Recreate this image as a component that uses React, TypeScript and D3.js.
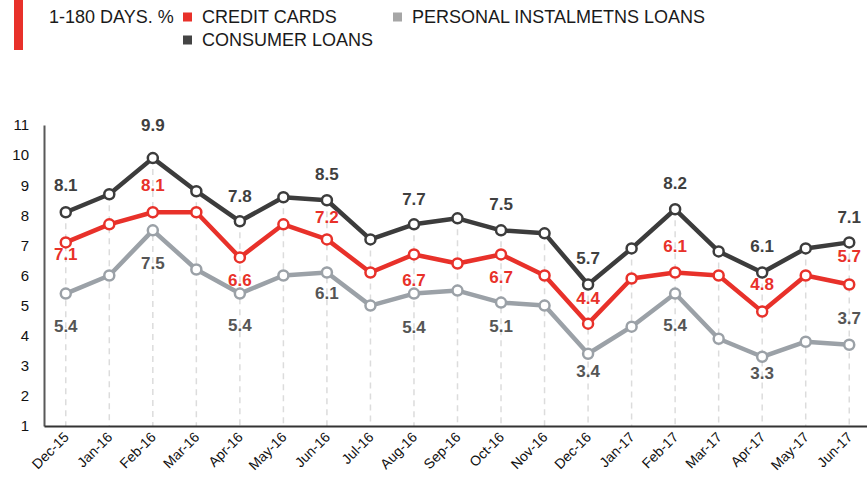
import React, { useEffect, useRef } from 'react';
import * as d3 from 'd3';

const months = [
  'Dec-15', 'Jan-16', 'Feb-16', 'Mar-16', 'Apr-16', 'May-16', 'Jun-16', 'Jul-16', 'Aug-16', 'Sep-16',
  'Oct-16', 'Nov-16', 'Dec-16', 'Jan-17', 'Feb-17', 'Mar-17', 'Apr-17', 'May-17', 'Jun-17',
];

const consumerLoans = [8.1, 8.7, 9.9, 8.8, 7.8, 8.6, 8.5, 7.2, 7.7, 7.9, 7.5, 7.4, 5.7, 6.9, 8.2, 6.8, 6.1, 6.9, 7.1];
const creditCards = [7.1, 7.7, 8.1, 8.1, 6.6, 7.7, 7.2, 6.1, 6.7, 6.4, 6.7, 6.0, 4.4, 5.9, 6.1, 6.0, 4.8, 6.0, 5.7];
const personalLoans = [5.4, 6.0, 7.5, 6.2, 5.4, 6.0, 6.1, 5.0, 5.4, 5.5, 5.1, 5.0, 3.4, 4.3, 5.4, 3.9, 3.3, 3.8, 3.7];

const yTicks = [1, 2, 3, 4, 5, 6, 7, 8, 9, 10, 11];

// label offsets (null = no label)
const consumerLabelDy = [-27, null, -33, null, -25, null, -26, null, -25, null, -26, null, -26, null, -26, null, -26, null, -25];
const creditLabelDy = [12, null, -27, null, 23, null, -22, null, 26, null, 23, null, -25, null, -26, null, -27, null, -28];
const personalLabelDy = [33, null, 33, null, 32, null, 21, null, 34, null, 24, null, 18, null, 32, null, 17, null, -26];

const RED = '#e8312a';
const DARK = '#3c3c3c';
const GRAY = '#9ba1a7';

const series = [
  { name: 'PERSONAL INSTALMETNS LOANS', values: personalLoans, color: GRAY, labelColor: '#555555', dy: personalLabelDy },
  { name: 'CREDIT CARDS', values: creditCards, color: RED, labelColor: RED, dy: creditLabelDy },
  { name: 'CONSUMER LOANS', values: consumerLoans, color: DARK, labelColor: '#404040', dy: consumerLabelDy },
];

export default function App() {
  const svgRef = useRef<SVGSVGElement>(null);
  const width = 867;
  const height = 491;

  useEffect(() => {
    if (!svgRef.current) return;
    const svg = d3.select(svgRef.current);
    svg.selectAll('*').remove();

    const x = d3.scaleBand<string>().domain(months).range([44, 871]).padding(0);
    const cx = (m: string) => (x(m) as number) + x.bandwidth() / 2;
    const y = d3.scaleLinear().domain([1, 11]).range([426, 125]);

    // drop lines from the top series
    svg.append('g')
      .selectAll('line')
      .data(months)
      .enter()
      .append('line')
      .attr('x1', d => cx(d))
      .attr('x2', d => cx(d))
      .attr('y1', (d, i) => y(consumerLoans[i]))
      .attr('y2', y(1))
      .attr('stroke', '#dcdcdc')
      .attr('stroke-width', 1.5)
      .attr('stroke-dasharray', '6,5');

    // y axis
    const yAxis = svg.append('g')
      .attr('transform', 'translate(44,0)')
      .call(d3.axisLeft(y).tickValues(yTicks).tickSize(0).tickPadding(15).tickFormat(d3.format('d')));
    yAxis.select('.domain').attr('stroke', '#595959').attr('stroke-width', 2);
    yAxis.selectAll('text')
      .style('font-family', 'Arial, "Liberation Sans", sans-serif')
      .style('font-size', '15px')
      .attr('fill', '#111');

    // x axis
    const xAxis = svg.append('g')
      .attr('transform', `translate(0,${y(1)})`)
      .call(d3.axisBottom(x).tickSize(0).tickSizeOuter(0).tickPadding(0));
    xAxis.select('.domain').attr('stroke', '#333').attr('stroke-width', 2);
    xAxis.selectAll('text')
      .style('font-family', 'Arial, "Liberation Sans", sans-serif')
      .style('font-size', '14px')
      .attr('fill', '#111')
      .attr('text-anchor', 'end')
      .attr('dy', null)
      .attr('y', 0)
      .attr('transform', 'translate(4,12) rotate(-45)');

    const line = d3.line<number>()
      .x((d, i) => cx(months[i]))
      .y(d => y(d));

    series.forEach(s => {
      svg.append('path')
        .datum(s.values)
        .attr('fill', 'none')
        .attr('stroke', s.color)
        .attr('stroke-width', 4.5)
        .attr('stroke-linejoin', 'round')
        .attr('d', line);

      svg.append('g')
        .selectAll('circle')
        .data(s.values)
        .enter()
        .append('circle')
        .attr('cx', (d, i) => cx(months[i]))
        .attr('cy', d => y(d))
        .attr('r', 5)
        .attr('fill', '#fff')
        .attr('stroke', s.color)
        .attr('stroke-width', 2.5);
    });

    series.forEach(s => {
      svg.append('g')
        .selectAll('text')
        .data(s.values.map((v, i) => ({ v, i, dy: s.dy[i] })).filter(d => d.dy !== null))
        .enter()
        .append('text')
        .attr('x', d => cx(months[d.i]))
        .attr('y', d => y(d.v) + (d.dy as number))
        .attr('text-anchor', 'middle')
        .attr('dominant-baseline', 'central')
        .style('font-family', 'Arial, "Liberation Sans", sans-serif')
        .style('font-size', '17px')
        .style('font-weight', 'bold')
        .attr('fill', s.labelColor)
        .text(d => d.v.toFixed(1));
    });

    // legend
    const legend = svg.append('g')
      .style('font-family', 'Arial, "Liberation Sans", sans-serif')
      .style('font-size', '18px')
      .attr('fill', '#1a1a1a');

    legend.append('rect').attr('x', 14).attr('y', 0).attr('width', 9).attr('height', 50).attr('fill', RED);
    legend.append('text').attr('x', 49).attr('y', 17).attr('dominant-baseline', 'central').text('1-180 DAYS. %');

    const items = [
      { s: series[1], x: 183, y: 17 },
      { s: series[0], x: 393, y: 17 },
      { s: series[2], x: 183, y: 40 },
    ];
    items.forEach(it => {
      legend.append('rect')
        .attr('x', it.x).attr('y', it.y - 4.5).attr('width', 9).attr('height', 9)
        .attr('fill', it.s.color === DARK ? '#444' : it.s.color === GRAY ? '#a6a6a6' : RED);
      legend.append('text')
        .attr('x', it.x + 19).attr('y', it.y)
        .attr('dominant-baseline', 'central')
        .text(it.s.name);
    });
  }, []);

  return (
    <svg
      ref={svgRef}
      width={width}
      height={height}
      style={{ position: 'absolute', left: 0, top: 0, background: '#fff' }}
    />
  );
}
